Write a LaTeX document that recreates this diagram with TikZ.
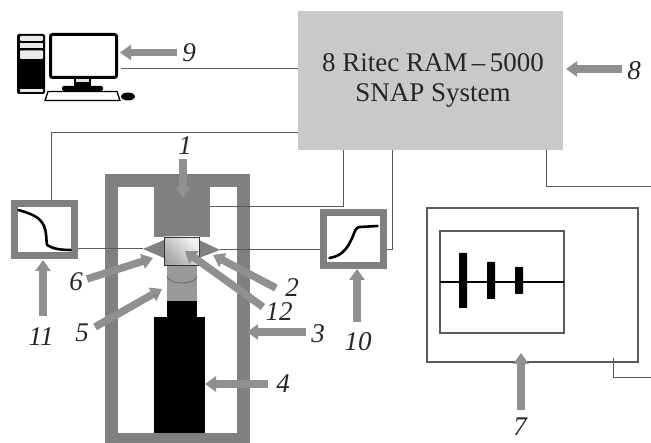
\documentclass[tikz,border=0pt]{standalone}
\usepackage{fontspec}
\setmainfont{Liberation Serif}
\usetikzlibrary{arrows.meta,calc}
\definecolor{frameg}{HTML}{808080}
\definecolor{arrowg}{HTML}{909090}
\definecolor{snapg}{HTML}{C9C9C9}
\definecolor{wireg}{HTML}{5A5A5A}
\tikzset{
  wire/.style={draw=wireg,line width=1pt},
  thinbox/.style={draw=wireg,line width=1.1pt,inner sep=0pt,outer sep=0pt,anchor=north west},
  grayarrow/.style={draw=arrowg,line width=7.5pt,-{Triangle[length=11pt,width=15pt,fill=arrowg]}},
  num/.style={font=\fontsize{27}{27}\selectfont\itshape,inner sep=0pt,text=black!85},
  mainlabel/.style={font=\fontsize{27}{30}\selectfont,align=center,inner sep=0pt,text=black!85},
  ink/.style={line width=2.6pt,line cap=round,line join=round,black},
}
\newcommand{\gapoint}[3]{\coordinate (#1t) at #2; \coordinate (#1h) at #3; \draw[grayarrow] (#1t) -- (#1h);}
\begin{document}
\begin{tikzpicture}[x=1pt,y=-1pt]
\useasboundingbox (0,0) rectangle (651,443);
% SNAP box
\node[anchor=north west,fill=snapg,minimum width=265pt,minimum height=139pt,inner sep=0pt,outer sep=0pt] (snap) at (298,11) {};
\node[mainlabel] (snaptext) at (433,80.5) {8 Ritec RAM\,–\,5000\\SNAP System};
% cell frame
\fill[frameg] (105,174) rectangle (250,443);
\fill[white] (118,187) rectangle (237,433);
\node[anchor=north west,fill=frameg,minimum width=56pt,minimum height=50pt,inner sep=0pt,outer sep=0pt] (block) at (154,187) {};
% neck & lens
\fill[black!40] (167,265) rectangle (197,302);
\draw[black!58,line width=.9pt] (167,276) arc[start angle=180,end angle=360,x radius=15,y radius=-7];
\fill[white] (165,276.5) rectangle (167,278);
\fill[white] (197,276.5) rectangle (199,278);
% objective
\node[anchor=north west,fill=black,minimum width=30pt,minimum height=17pt,inner sep=0pt,outer sep=0pt] (objtop) at (167,301) {};
\node[anchor=north west,fill=black,minimum width=51pt,minimum height=116pt,inner sep=0pt,outer sep=0pt] (obj) at (154,317) {};
% transducers
\coordinate (tl) at (143,249);
\coordinate (tr) at (220,250);
\fill[frameg] (tl) -- (164,240) -- (164,258) -- cycle;
\fill[frameg] (tr) -- (199,240) -- (199,258) -- cycle;
% sample
\node[anchor=north west,draw=black!80,line width=.9pt,minimum width=35pt,minimum height=28pt,inner sep=0pt,outer sep=0pt,left color=black!5,right color=black!35,shading angle=-45] (sample) at (164,237) {};
% scope boxes
\node[anchor=north west,draw=frameg,line width=7pt,fill=white,minimum width=60pt,minimum height=52pt,inner sep=0pt,outer sep=3.5pt] (rc) at (11,200) {};
\node[anchor=north west,draw=frameg,line width=7pt,fill=white,minimum width=60pt,minimum height=53pt,inner sep=0pt,outer sep=3.5pt] (rd) at (320,209) {};
\draw[ink] (18.5,210) .. controls (32,214) and (40,217) .. (44,226) .. controls (47,233) and (46,240) .. (47,245) .. controls (52,248) and (58,250) .. (70.5,250);
\draw[ink] (329.5,258) .. controls (344,256) and (349,245) .. (353,236) .. controls (355,231) and (356,227) .. (360,227) -- (377.5,226);
% oscilloscope
\node[thinbox,minimum width=211pt,minimum height=154pt] (scope) at (427,208) {};
\node[thinbox,minimum width=124pt,minimum height=102pt] (screen) at (440,231) {};
\draw[black,line width=1.8pt] (screen.west) -- (screen.east);
\fill[black,rounded corners=.6pt] (459,253) rectangle (467,308);
\fill[black,rounded corners=.6pt] (487,262) rectangle (495,299);
\fill[black,rounded corners=.6pt] (515,267) rectangle (523,294);
% computer
\fill[black,rounded corners=2pt] (17,34) rectangle (45,94);
\fill[black!8,rounded corners=1pt] (20,36) rectangle (43,41);
\fill[black!8] (20,43.5) rectangle (43,48);
\fill[black!8,rounded corners=1pt] (20,50.5) rectangle (43,59);
\fill[black!8] (20,89.5) rectangle (43,92);
\node[anchor=north west,draw=black,line width=3pt,rounded corners=2pt,fill=white,minimum width=66pt,minimum height=43pt,inner sep=0pt,outer sep=1.5pt] (pc) at (49,33) {};
\fill[black] (74,79) rectangle (91,88);
\fill[black!10] (76,79.5) rectangle (89,82.5);
\fill[black,rounded corners=1.5pt] (62,86) rectangle (103,91);
\draw[black,line width=1.4pt,fill=white,line join=round] (45,100.5) -- (48,91.5) -- (117,91.5) -- (120,100.5) -- cycle;
\fill[black] (128,96.5) ellipse[x radius=7,y radius=4];
% wires
\coordinate (pcw) at (121,69);
\draw[wire] (pcw) -- (pcw -| snap.west);
\coordinate (a) at (298,132.5);
\coordinate (rctop) at (51,200);
\draw[wire] (a) -| (rctop);
\draw[wire] (rc.east |- tl) -- (tl);
\draw[wire] (tr) -- (tr -| rd.west);
\coordinate (b) at (343,150);
\coordinate (c) at (210,207);
\draw[wire] (c) -| (b);
\coordinate (d) at (392,150);
\coordinate (e) at (387,250);
\draw[wire] (d) |- (e);
\coordinate (f) at (546,150);
\coordinate (g) at (651,187);
\draw[wire] (f) |- (g);
\coordinate (h) at (613,358);
\coordinate (i) at (651,378);
\draw[wire] (h) |- (i);
% arrows
\gapoint{n9}{(177,52.5)}{(120,52.5)}
\gapoint{n8}{(622,69)}{(566,69)}
\gapoint{n1}{(183,159)}{(183,198)}
\gapoint{n11}{(43,316)}{(43,260)}
\gapoint{n10}{(357,322)}{(357,269)}
\gapoint{n7}{(521,410)}{(521,353)}
\gapoint{n6}{(87,279)}{(153,258)}
\gapoint{n5}{(95,327)}{(162,289)}
\gapoint{n2}{(276,288)}{(213,255)}
\gapoint{n12}{(263,307)}{(185,251)}
\gapoint{n3}{(306,332)}{(247,332)}
\gapoint{n4}{(268,384)}{(205,384)}
% labels
\node[num] (l9) at (189,53) {9};
\node[num] (l1) at (185,146) {1};
\node[num] (l8) at (634,71) {8};
\node[num] (l11) at (41,337) {11};
\node[num] (l5) at (82,333) {5};
\node[num] (l6) at (76,282) {6};
\node[num] (l2) at (292,288) {2};
\node[num] (l12) at (279,312) {12};
\node[num] (l3) at (318,334) {3};
\node[num] (l10) at (358,342) {10};
\node[num] (l4) at (283,384) {4};
\node[num] (l7) at (520,427) {7};
\end{tikzpicture}
\end{document}
